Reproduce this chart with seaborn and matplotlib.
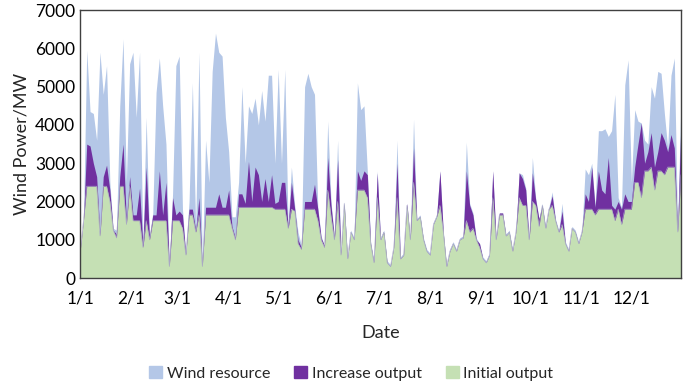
import matplotlib
matplotlib.use('Agg')
import matplotlib.pyplot as plt
import seaborn as sns
import pandas as pd
from matplotlib.patches import Patch

# Daily wind data sampled every second day (day 0 = 1 Jan)
days = list(range(0, 365, 2))

# Initial output (MW)
initial_output = [
    700, 1500, 2400, 2400, 2400, 2400, 1100, 2400, 2400, 2000, 1250, 1050, 2400, 2400, 1400, 2400,  # Jan
    1500, 1500, 1500, 800, 1500, 1000, 1500, 1500, 1500, 1500, 1500, 300, 1500, 1500,  # Feb
    1500, 1300, 600, 1650, 1650, 1200, 1650, 300, 1650, 1650, 1650, 1650, 1650, 1650, 1650, 1650,  # Mar
    1300, 1000, 1850, 1850, 1850, 1850, 1850, 1850, 1850, 1850, 1850, 1850, 1850, 1800, 1800,  # Apr
    1800, 1800, 1300, 1800, 1750, 900, 750, 1800, 1800, 1800, 1800, 1500, 1000, 800, 2300,  # May
    1600, 1000, 2000, 600, 1950, 500, 1200, 1000, 2300, 2300, 2300, 2100, 900, 400, 2100,  # Jun
    1000, 1200, 400, 300, 800, 2100, 500, 600, 1900, 1000, 2500, 1500, 1600, 1000, 700,  # Jul
    600, 1400, 1600, 1900, 1200, 300, 700, 900, 700, 1000, 1050, 1500, 1200, 1300, 1000, 800,  # Aug
    500, 400, 600, 2100, 1000, 1650, 1650, 1100, 1200, 700, 1200, 2100, 1900, 1900, 1000,  # Sep
    2000, 1900, 1350, 1900, 1300, 1800, 1900, 1500, 1200, 1400, 900, 700, 1300, 1200, 900,  # Oct
    1200, 1800, 1800, 1800, 1650, 1800, 1800, 1800, 1800, 1800, 1500, 1800, 1400, 1800, 1800, 1800,  # Nov
    2500, 2500, 2100, 2800, 2800, 2900, 2300, 2800, 2800, 2700, 2900, 2900, 2900, 1200, 2700,  # Dec
]

# Increase output on top of the initial output (MW)
increase_output = [
    0, 0, 1100, 1050, 600, 250, 50, 250, 550, 300, 0, 100, 250, 1100, 100, 250,  # Jan
    150, 150, 850, 50, 1400, 50, 150, 150, 1300, 150, 1000, 0, 600, 150,  # Feb
    250, 350, 0, 150, 150, 50, 450, 0, 200, 200, 200, 200, 550, 200, 200, 650,  # Mar
    50, 50, 350, 350, 100, 1200, 150, 1050, 850, 150, 750, 150, 850, 150, 200,  # Apr
    700, 700, 50, 700, 50, 100, 50, 200, 200, 200, 650, 300, 50, 50, 850,  # May
    300, 50, 1100, 0, 0, 0, 0, 0, 500, 250, 500, 600, 0, 0, 650,  # Jun
    0, 0, 0, 0, 0, 900, 0, 0, 50, 0, 900, 0, 0, 0, 0,  # Jul
    0, 0, 0, 900, 0, 0, 0, 0, 0, 0, 0, 1300, 700, 350, 0, 100,  # Aug
    0, 0, 0, 700, 0, 50, 50, 0, 0, 0, 0, 650, 700, 400, 0,  # Sep
    750, 150, 200, 0, 0, 0, 250, 0, 0, 350, 0, 0, 0, 0, 0,  # Oct
    0, 400, 200, 1100, 200, 1000, 500, 400, 1350, 100, 300, 200, 400, 400, 200, 200,  # Nov
    400, 1000, 1950, 200, 500, 900, 600, 500, 1000, 900, 400, 850, 500, 50, 1350,  # Dec
]

# Wind resource (MW)
wind_resource = [
    700, 1500, 5950, 4350, 4300, 3600, 5900, 4800, 5550, 2500, 1300, 1250, 4500, 6250, 2500, 5600,  # Jan
    5900, 4200, 5900, 900, 4200, 1100, 1700, 4850, 5750, 4500, 3500, 350, 2200, 5550,  # Feb
    5800, 1800, 650, 2000, 5100, 1300, 5900, 350, 3600, 2500, 5400, 6400, 5900, 5800, 4200, 3300,  # Mar
    1600, 1600, 2500, 5000, 3000, 4500, 4300, 4700, 4000, 4900, 4100, 5300, 5300, 3000, 5450,  # Apr
    3000, 5450, 1400, 2900, 1900, 1200, 850, 5000, 5350, 5000, 4800, 1850, 1100, 850, 4100,  # May
    2000, 1100, 3600, 650, 2000, 550, 1250, 1050, 5100, 4400, 4500, 2800, 950, 450, 2800,  # Jun
    1050, 1250, 450, 350, 850, 3600, 550, 650, 1950, 1050, 4150, 1550, 1650, 1050, 750,  # Jul
    650, 1450, 1650, 2800, 1250, 350, 750, 950, 750, 1050, 1100, 3550, 1950, 1700, 1050, 900,  # Aug
    550, 450, 650, 2800, 1050, 1700, 1700, 1150, 1250, 750, 1250, 2750, 2700, 2350, 1050,  # Sep
    3150, 2100, 1550, 1950, 1350, 1850, 2250, 1550, 1250, 1950, 950, 750, 1350, 1250, 950,  # Oct
    1250, 2850, 2700, 3000, 1900, 3850, 3850, 3900, 3700, 3850, 4800, 2100, 1850, 5050, 5700, 2500,  # Nov
    4400, 4100, 4050, 3600, 3500, 5000, 4700, 5400, 5350, 4300, 3400, 5300, 5750, 1300, 4600,  # Dec
]

month_starts = [0, 31, 59, 90, 120, 151, 181, 212, 243, 273, 304, 334]
month_labels = ['1/1', '2/1', '3/1', '4/1', '5/1', '6/1', '7/1', '8/1', '9/1', '10/1', '11/1', '12/1']

df = pd.DataFrame({'day': days, 'initial': initial_output,
                   'increase': increase_output, 'wind': wind_resource})
df['total'] = df['initial'] + df['increase']

sns.set_style('white')
plt.rcParams['font.family'] = ['Lato', 'DejaVu Sans']

blue = '#B4C7E7'
purple = '#7030A0'
green = '#C5E0B4'

fig = plt.figure(figsize=(6.85, 3.91), dpi=100)
ax = fig.add_axes([0.117, 0.289, 0.877, 0.685])

# layered areas: resource behind, then total output, then initial output
ax.fill_between(df['day'], 0, df['wind'], color=blue, linewidth=0)
ax.fill_between(df['day'], 0, df['total'], color=purple, linewidth=0)
ax.fill_between(df['day'], 0, df['initial'], color=green, linewidth=0)
sns.lineplot(x='day', y='initial', data=df, ax=ax, color='#A9A9C8', linewidth=0.4)

ax.set_xlim(0, 364)
ax.set_ylim(0, 7000)
ax.set_yticks(range(0, 7001, 1000))
ax.set_xticks(month_starts)
ax.set_xticklabels(month_labels)
ax.tick_params(axis='both', direction='in', length=4, width=1, colors='#222222',
               labelsize=12.5, labelcolor='black')
ax.tick_params(axis='x', pad=9)
ax.set_xlabel('Date', fontsize=13, labelpad=13)
ax.set_ylabel('Wind Power/MW', fontsize=13, labelpad=4)

for s in ax.spines.values():
    s.set_color('#404040')
    s.set_linewidth(1.0)

handles = [Patch(color=blue, label='Wind resource'),
           Patch(color=purple, label='Increase output'),
           Patch(color=green, label='Initial output')]
fig.legend(handles=handles, loc='lower center', bbox_to_anchor=(0.513, -0.01), ncol=3,
           frameon=False, fontsize=11.5, handlelength=0.8, handleheight=0.8,
           handletextpad=0.3, columnspacing=1.5)

fig.savefig('out.png', dpi=100)
